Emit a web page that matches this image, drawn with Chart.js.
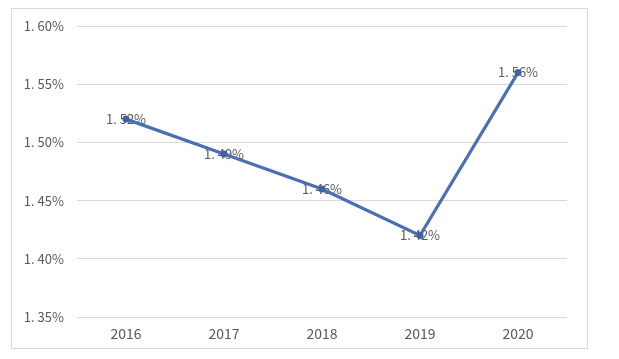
<!DOCTYPE html>
<html>
<head>
<meta charset="utf-8">
<script src="https://cdn.jsdelivr.net/npm/chart.js@4/dist/chart.umd.min.js"></script>
<style>
  html, body { margin: 0; padding: 0; background: #fff; }
  #wrap { position: relative; width: 619px; height: 359px; }
  #frame { position: absolute; left: 11px; top: 8px; width: 575px; height: 339px; border: 1px solid #d9d9d9; }
  canvas { position: absolute; left: 0; top: 0; }
</style>
</head>
<body>
<div id="wrap">
  <div id="frame"></div>
  <canvas id="ch" width="619" height="359"></canvas>
</div>
<script>
const years = ['2016', '2017', '2018', '2019', '2020'];
const rates = [1.52, 1.49, 1.46, 1.42, 1.56];
const yTicks = [1.35, 1.40, 1.45, 1.50, 1.55, 1.60];

const fmt = v => v.toFixed(2).replace('.', '. ') + '%';
const FONT = "'Noto Sans CJK SC', 'Noto Sans', sans-serif";

// labels drawn under the line, centred on each point
const pointLabels = {
  id: 'pointLabels',
  beforeDatasetsDraw(chart) {
    const ctx = chart.ctx;
    const meta = chart.getDatasetMeta(0);
    ctx.save();
    ctx.font = '13px ' + FONT;
    ctx.fillStyle = '#595959';
    ctx.textAlign = 'center';
    ctx.textBaseline = 'middle';
    meta.data.forEach((pt, i) => ctx.fillText(fmt(rates[i]), pt.x, pt.y));
    ctx.restore();
  }
};

new Chart(document.getElementById('ch'), {
  type: 'line',
  data: {
    labels: years,
    datasets: [{
      data: rates,
      borderColor: '#4a6fb5',
      backgroundColor: '#3f62a6',
      borderWidth: 3.2,
      pointRadius: 3.5,
      pointBorderWidth: 0,
      tension: 0
    }]
  },
  options: {
    responsive: false,
    animation: false,
    layout: { padding: { left: 0, top: 26, right: 52, bottom: 0 } },
    plugins: { legend: { display: false }, tooltip: { enabled: false } },
    scales: {
      x: {
        offset: true,
        grid: { display: false },
        border: { display: false },
        ticks: { color: '#595959', font: { size: 14, family: FONT }, padding: 0 },
        afterFit: s => { s.height = 42; }
      },
      y: {
        min: 1.35,
        max: 1.60,
        afterBuildTicks: s => { s.ticks = yTicks.map(v => ({ value: v })); },
        grid: { color: '#d9d9d9', lineWidth: 1, drawTicks: false },
        border: { display: false },
        ticks: { color: '#595959', font: { size: 13, family: FONT }, padding: 13, callback: v => fmt(v) },
        afterFit: s => { s.width = 77; }
      }
    }
  },
  plugins: [pointLabels]
});
</script>
</body>
</html>
